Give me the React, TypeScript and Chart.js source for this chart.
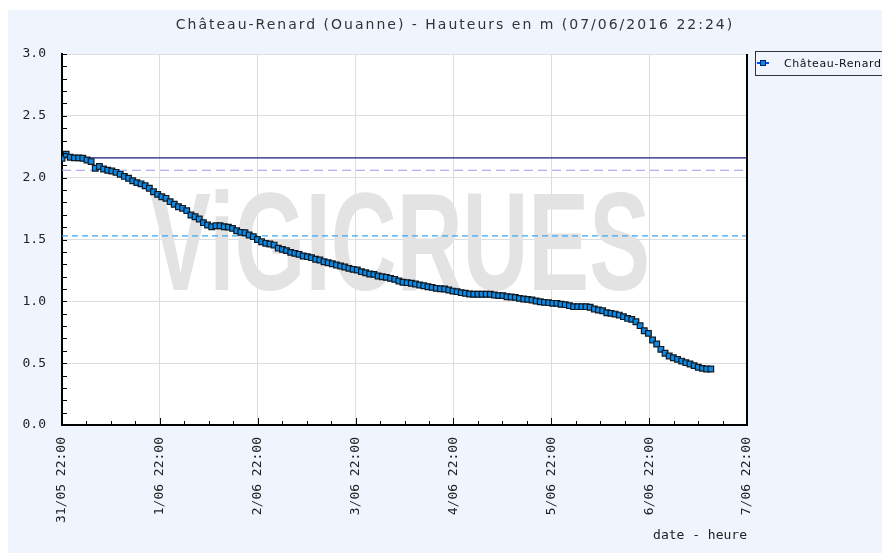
import { useEffect, useRef } from 'react';
import { Chart, registerables } from 'chart.js';

Chart.register(...registerables);

const TITLE = 'Château-Renard (Ouanne) - Hauteurs en m (07/06/2016 22:24)';
const SERIES_LABEL = 'Château-Renard';
const X_AXIS_TITLE = 'date - heure';
const WATERMARK = 'ViGICRUES';

// x tick labels, one per day (hours from 31/05 22:00)
const xTickLabels = ['31/05 22:00', '1/06 22:00', '2/06 22:00', '3/06 22:00', '4/06 22:00', '5/06 22:00', '6/06 22:00', '7/06 22:00'];
const X_MAX_HOURS = 168;
const SAMPLE_STEP_H = 1.02; // measurement cadence in hours

// water heights (m)
const heights = [
  2.157, 2.19, 2.165, 2.16, 2.16, 2.157, 2.143, 2.13, 2.076, 2.09,
  2.07, 2.06, 2.054, 2.043, 2.027, 2.01, 1.995, 1.975, 1.96, 1.95,
  1.935, 1.914, 1.886, 1.865, 1.846, 1.833, 1.806, 1.785, 1.765, 1.752,
  1.733, 1.698, 1.684, 1.666, 1.636, 1.617, 1.603, 1.611, 1.611, 1.603,
  1.6, 1.59, 1.571, 1.558, 1.555, 1.536, 1.523, 1.5, 1.482, 1.469,
  1.464, 1.455, 1.43, 1.42, 1.41, 1.396, 1.388, 1.38, 1.367, 1.361,
  1.353, 1.34, 1.334, 1.32, 1.312, 1.304, 1.294, 1.286, 1.278, 1.267,
  1.259, 1.253, 1.24, 1.231, 1.221, 1.218, 1.205, 1.199, 1.194, 1.186,
  1.178, 1.164, 1.154, 1.151, 1.146, 1.14, 1.132, 1.126, 1.118, 1.113,
  1.105, 1.102, 1.1, 1.092, 1.083, 1.078, 1.07, 1.065, 1.059, 1.057,
  1.057, 1.057, 1.057, 1.057, 1.051, 1.046, 1.046, 1.037, 1.035, 1.032,
  1.024, 1.019, 1.016, 1.011, 1.003, 0.997, 0.992, 0.989, 0.984, 0.984,
  0.976, 0.973, 0.965, 0.957, 0.957, 0.957, 0.957, 0.952, 0.938, 0.93,
  0.924, 0.908, 0.903, 0.897, 0.889, 0.876, 0.862, 0.854, 0.835, 0.803,
  0.762, 0.741, 0.687, 0.655, 0.612, 0.58, 0.558, 0.544, 0.531, 0.517,
  0.504, 0.493, 0.48, 0.467, 0.458, 0.453, 0.453,
];

// reference levels (m)
const levelSolid = 2.16;
const levelDashedPurple = 2.06;
const levelDashedBlue = 1.53;

const BG = '#f0f5fd';
const MONO = '"DejaVu Sans Mono", monospace';

const decor = {
  id: 'decor',
  beforeDraw(c: any) {
    const { ctx, chartArea: a, width, height } = c;
    ctx.save();
    ctx.fillStyle = '#ffffff';
    ctx.fillRect(0, 0, width, height);
    ctx.fillStyle = BG;
    ctx.fillRect(0, 2, width, height - 2);
    ctx.fillStyle = '#ffffff';
    ctx.fillRect(a.left, a.top, a.right - a.left, a.bottom - a.top);
    ctx.restore();
  },
  beforeDatasetsDraw(c: any) {
    const { ctx, chartArea: a } = c;
    ctx.save();
    ctx.beginPath();
    ctx.rect(a.left, a.top, a.right - a.left, a.bottom - a.top);
    ctx.clip();
    ctx.font = 'bold 140px "Liberation Sans", sans-serif';
    const w = ctx.measureText(WATERMARK).width;
    const target = 500;
    ctx.translate(392 - target / 2, 282);
    ctx.scale(target / w, 1);
    ctx.fillStyle = '#e3e3e3';
    ctx.textBaseline = 'alphabetic';
    ctx.fillText(WATERMARK, 0, 0);
    ctx.restore();
  },
  afterDraw(c: any) {
    const { ctx, chartArea: a } = c;
    const xs = c.scales.x;
    const ys = c.scales.y;
    ctx.save();
    // inward tick marks
    ctx.strokeStyle = '#000';
    ctx.lineWidth = 1;
    ctx.beginPath();
    for (let i = 0; i <= 30; i++) {
      const y = Math.round(ys.getPixelForValue(i / 10)) + 0.5;
      ctx.moveTo(a.left, y);
      ctx.lineTo(a.left + 5, y);
    }
    for (let h = 0; h <= X_MAX_HOURS; h += 6) {
      const x = Math.round(xs.getPixelForValue(h)) + 0.5;
      const len = h % 24 === 0 ? 7 : 4;
      ctx.moveTo(x, a.bottom);
      ctx.lineTo(x, a.bottom - len);
    }
    ctx.stroke();
    // right border
    ctx.lineWidth = 2;
    ctx.beginPath();
    ctx.moveTo(a.right, a.top);
    ctx.lineTo(a.right, a.bottom);
    ctx.stroke();

    // title
    ctx.fillStyle = '#333';
    ctx.font = '14px "DejaVu Sans", sans-serif';
    (ctx as any).letterSpacing = '2px';
    ctx.textAlign = 'center';
    ctx.textBaseline = 'middle';
    ctx.fillText(TITLE, 447, 17);

    // legend
    (ctx as any).letterSpacing = '0.6px';
    ctx.fillStyle = BG;
    ctx.fillRect(747, 44, 140, 24);
    ctx.strokeStyle = '#333';
    ctx.lineWidth = 1;
    ctx.strokeRect(747.5, 43.5, 140, 24);
    ctx.strokeStyle = '#0044ff';
    ctx.lineWidth = 2;
    ctx.beginPath();
    ctx.moveTo(749, 55);
    ctx.lineTo(761, 55);
    ctx.stroke();
    ctx.fillStyle = '#0a8ae6';
    ctx.fillRect(752, 52, 6, 6);
    ctx.strokeStyle = '#002266';
    ctx.lineWidth = 1;
    ctx.strokeRect(752.5, 52.5, 5, 5);
    ctx.fillStyle = '#111';
    ctx.font = '11px "DejaVu Sans", sans-serif';
    ctx.textAlign = 'left';
    ctx.fillText(SERIES_LABEL, 776, 56);

    // x axis title
    (ctx as any).letterSpacing = '0px';
    ctx.font = '13px ' + MONO;
    ctx.fillStyle = '#222';
    ctx.textAlign = 'right';
    ctx.fillText(X_AXIS_TITLE, a.right, 528);
    ctx.restore();
  },
};

export default function App() {
  const ref = useRef<HTMLCanvasElement>(null);
  useEffect(() => {
    const canvas = ref.current!;
    const series = heights.map((v, i) => ({ x: i * SAMPLE_STEP_H, y: v }));
    const span = (v: number) => [{ x: 0, y: v }, { x: X_MAX_HOURS, y: v }];
    const chart = new Chart(canvas, {
      type: 'line',
      data: {
        datasets: [
          {
            label: SERIES_LABEL,
            data: series,
            borderColor: '#0066cc',
            borderWidth: 1,
            pointStyle: 'rect',
            pointRadius: 4,
            pointBackgroundColor: '#0a8ae6',
            pointBorderColor: '#101820',
            pointBorderWidth: 1.2,
            tension: 0,
          },
          { label: 'l1', data: span(levelSolid), borderColor: '#1a1a80', borderWidth: 1.2, pointRadius: 0 },
          { label: 'l2', data: span(levelDashedPurple), borderColor: '#9a9af5', borderWidth: 1.2, borderDash: [9, 5], pointRadius: 0 },
          { label: 'l3', data: span(levelDashedBlue), borderColor: '#3aa6f0', borderWidth: 1.2, borderDash: [6, 4], pointRadius: 0 },
        ],
      },
      options: {
        animation: false,
        responsive: false,
        devicePixelRatio: 1,
        events: [],
        layout: { padding: { top: 46, right: 143, left: 0, bottom: 0 } },
        plugins: { legend: { display: false }, title: { display: false }, tooltip: { enabled: false } },
        scales: {
          x: {
            type: 'linear',
            min: 0,
            max: X_MAX_HOURS,
            afterFit: (s: any) => { s.height = 128; },
            ticks: {
              stepSize: 24,
              autoSkip: false,
              minRotation: 90,
              maxRotation: 90,
              padding: 12,
              color: '#222',
              font: { family: MONO, size: 13 },
              callback: (_v: any, i: number) => xTickLabels[i],
            },
            grid: { color: '#dddddd', drawTicks: false, lineWidth: 1 },
            border: { color: '#000', width: 2 },
          },
          y: {
            type: 'linear',
            min: 0,
            max: 3,
            afterFit: (s: any) => { s.width = 54; },
            ticks: {
              stepSize: 0.5,
              padding: 16,
              color: '#222',
              font: { family: MONO, size: 13 },
              callback: (v: any) => Number(v).toFixed(1),
            },
            grid: { color: '#dddddd', drawTicks: false, lineWidth: 1 },
            border: { color: '#000', width: 2 },
          },
        },
      },
      plugins: [decor],
    });
    return () => chart.destroy();
  }, []);
  return <canvas ref={ref} width={882} height={545} style={{ display: 'block', width: 882, height: 545 }} />;
}
